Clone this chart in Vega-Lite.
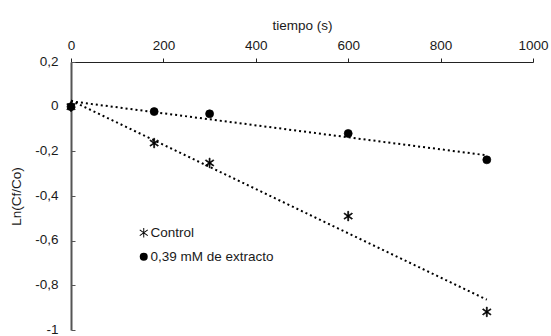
{
  "$schema": "https://vega.github.io/schema/vega-lite/v6.json",
  "width": 462,
  "height": 268,
  "autosize": {"type": "none"},
  "padding": {"left": 71, "top": 62, "right": 18, "bottom": 6},
  "background": "white",
  "config": {
    "font": "Liberation Sans",
    "view": {"stroke": null},
    "axis": {"grid": false, "labelFont": "Liberation Sans", "titleFont": "Liberation Sans", "labelFontSize": 13.5, "titleFontSize": 13.5, "titleFontWeight": "normal", "labelColor": "#1a1a1a", "titleColor": "#1a1a1a"},
    "legend": {"labelFont": "Liberation Sans", "labelFontSize": 13.5, "labelColor": "#1a1a1a"}
  },
  "data": {
    "values": [
      {"serie": "Control", "t": 0, "ln": 0},
      {"serie": "Control", "t": 180, "ln": -0.163},
      {"serie": "Control", "t": 300, "ln": -0.252},
      {"serie": "Control", "t": 600, "ln": -0.49},
      {"serie": "Control", "t": 900, "ln": -0.919},
      {"serie": "0,39 mM de extracto", "t": 0, "ln": 0},
      {"serie": "0,39 mM de extracto", "t": 180, "ln": -0.022},
      {"serie": "0,39 mM de extracto", "t": 300, "ln": -0.032},
      {"serie": "0,39 mM de extracto", "t": 600, "ln": -0.12},
      {"serie": "0,39 mM de extracto", "t": 900, "ln": -0.238}
    ]
  },
  "encoding": {
    "x": {
      "field": "t", "type": "quantitative",
      "scale": {"domain": [0, 1000], "nice": false},
      "axis": {"orient": "top", "title": "tiempo (s)", "values": [0, 200, 400, 600, 800, 1000], "format": "d", "domainColor": "#222", "domainWidth": 1, "tickColor": "#222", "tickSize": 4, "labelPadding": 6, "titlePadding": 6, "labelFlush": false}
    },
    "y": {
      "field": "ln", "type": "quantitative",
      "scale": {"domain": [-1, 0.2], "nice": false},
      "axis": {"title": "Ln(Cf/Co)", "values": [-1, -0.8, -0.6, -0.4, -0.2, 0, 0.2], "labelExpr": "replace(toString(round(datum.value*10)/10), '.', ',')", "domainColor": "#555", "domainWidth": 2, "tickColor": "#555", "tickSize": -4, "labelPadding": 17, "labelOffset": -1, "titlePadding": 11, "labelFlush": false}
    }
  },
  "layer": [
    {
      "transform": [
        {"regression": "ln", "on": "t", "groupby": ["serie"], "extent": [0, 900]}
      ],
      "mark": {"type": "line", "color": "black", "strokeWidth": 2, "strokeDash": [2, 3], "strokeCap": "butt"},
      "encoding": {"detail": {"field": "serie"}}
    },
    {
      "mark": {"type": "point", "filled": false, "fill": "black", "fillOpacity": 1, "stroke": "black", "strokeWidth": 0.7, "opacity": 1, "size": 64},
      "encoding": {
        "shape": {
          "field": "serie", "type": "nominal",
          "scale": {"domain": ["Control", "0,39 mM de extracto"], "range": ["M-0.12,-1.2L0.12,-1.2L0.12,1.2L-0.12,1.2ZM-1.069,-0.602L-0.931,-0.798L1.069,0.602L0.931,0.798ZM-1.069,0.602L0.931,-0.798L1.069,-0.602L-0.931,0.798Z", "circle"]},
          "legend": {
            "title": null, "orient": "none", "legendX": 66, "legendY": 164, "padding": 0, "rowPadding": 9, "labelOffset": 0, "symbolSize": 64, "symbolFillColor": "black", "symbolStrokeColor": "black", "symbolStrokeWidth": 0.7, "symbolOpacity": 1,
            "encode": {"symbols": {"update": {
              "stroke": {"value": "black"},
              "strokeWidth": {"value": 0.7},
              "fill": {"value": "black"},
              "opacity": {"value": 1},
              "fillOpacity": {"value": 1}
            }}}
          }
        }
      }
    }
  ]
}
